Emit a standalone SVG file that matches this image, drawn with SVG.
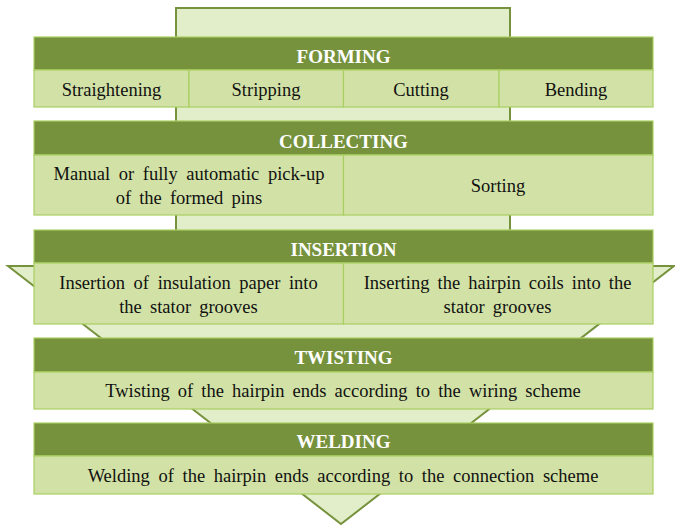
<svg xmlns="http://www.w3.org/2000/svg" width="675" height="526" viewBox="0 0 675 526">
<style>
.hdr{fill:#76923C;stroke:#A9CF62;stroke-width:1.2}
.cell{fill:#D2E2A6;stroke:#A9CF62;stroke-width:1.2}
.ht{font-family:"Liberation Serif",serif;font-weight:bold;font-size:19px;fill:#FFFFFF;text-anchor:middle}
.ct{font-family:"Liberation Serif",serif;font-size:18.5px;fill:#111111;text-anchor:middle;word-spacing:3.5px}
.ws4{word-spacing:4px}
.arrow{fill:#E2EDC9;stroke:#76923C;stroke-width:2;stroke-linejoin:miter}
</style>
<g id="connectors">
<polygon class="arrow" points="176,8 510,8 510,266 674,266 341,524 8,266 176,266"/>
</g>
<g id="forming">
<rect class="hdr" x="34" y="37" width="619" height="33"/>
<text class="ht" x="343.5" y="63">FORMING</text>
<rect class="cell" x="34" y="70" width="155" height="37"/>
<rect class="cell" x="189" y="70" width="154.5" height="37"/>
<rect class="cell" x="343.5" y="70" width="155.5" height="37"/>
<rect class="cell" x="499" y="70" width="154" height="37"/>
<text class="ct" x="111.5" y="96">Straightening</text>
<text class="ct" x="266" y="96">Stripping</text>
<text class="ct" x="421" y="96">Cutting</text>
<text class="ct" x="576" y="96">Bending</text>
</g>
<g id="collecting">
<rect class="hdr" x="34" y="121" width="619" height="34"/>
<text class="ht" x="343.5" y="148">COLLECTING</text>
<rect class="cell" x="34" y="155" width="309.5" height="60"/>
<rect class="cell" x="343.5" y="155" width="309.5" height="60"/>
<text class="ct ws4" x="189" y="180">Manual or fully automatic pick-up</text>
<text class="ct" x="189" y="204">of the formed pins</text>
<text class="ct" x="498" y="192">Sorting</text>
</g>
<g id="insertion">
<rect class="hdr" x="34" y="230" width="619" height="33"/>
<text class="ht" x="343.5" y="256">INSERTION</text>
<rect class="cell" x="34" y="263" width="309.5" height="61"/>
<rect class="cell" x="343.5" y="263" width="309.5" height="61"/>
<text class="ct ws4" x="188.5" y="289">Insertion of insulation  paper into</text>
<text class="ct" x="188.5" y="313">the stator grooves</text>
<text class="ct" x="497.5" y="289">Inserting the hairpin coils into the</text>
<text class="ct" x="497.5" y="313">stator grooves</text>
</g>
<g id="twisting">
<rect class="hdr" x="34" y="338" width="619" height="34"/>
<text class="ht" x="343.5" y="364">TWISTING</text>
<rect class="cell" x="34" y="372" width="619" height="37"/>
<text class="ct" x="343" y="397">Twisting of the hairpin ends according to the wiring scheme</text>
</g>
<g id="welding">
<rect class="hdr" x="34" y="423" width="619" height="33"/>
<text class="ht" x="343.5" y="448">WELDING</text>
<rect class="cell" x="34" y="456" width="619" height="38"/>
<text class="ct ws4" x="343" y="482">Welding of the hairpin ends according to the connection scheme</text>
</g>
</svg>
